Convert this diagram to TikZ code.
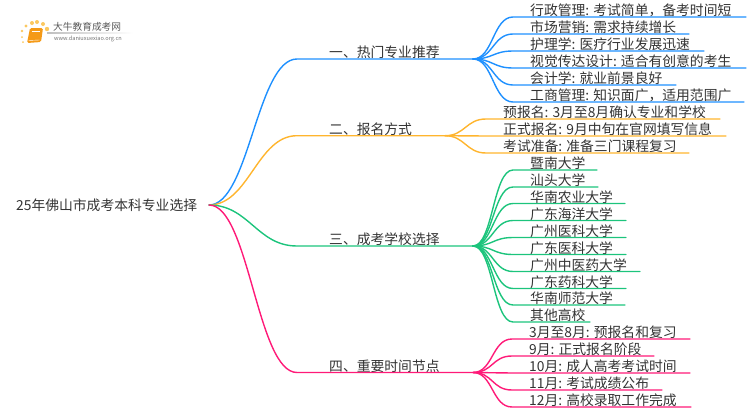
\documentclass[tikz,border=0pt]{standalone}
\usepackage{fontspec}
\setmainfont{Noto Sans CJK SC}
\definecolor{lineblue}{HTML}{1E90FF}
\definecolor{lineorange}{HTML}{FFB52E}
\definecolor{linegreen}{HTML}{1CC47C}
\definecolor{linepink}{HTML}{FF1A78}
\definecolor{textgray}{HTML}{333333}
\definecolor{logoorange}{HTML}{F59A16}
\definecolor{logosun}{HTML}{FBC860}
\tikzset{label/.style = {anchor=south west, inner sep=0pt, text height=11pt, text depth=1pt,
                         font=\fontsize{13.8}{14}\selectfont, text=textgray},
         rootlabel/.style = {anchor=west, inner sep=0pt, font=\fontsize{13.8}{14}\selectfont, text=textgray},
         logotitle/.style = {anchor=west, inner sep=0pt, font=\fontsize{9.7}{10}\selectfont, text=black!65},
         logourl/.style = {anchor=west, inner sep=0pt, font=\fontsize{5.6}{6}\selectfont, text=black!55},
         sundot/.style = {fill=logosun},
         limb/.style = {line width=1.4pt, line cap=round},
         swoop/.style = {to path={.. controls ([xshift=#1]\tikztostart) and ([xshift=-#1]\tikztotarget) .. (\tikztotarget)}}}

\begin{document}
\begin{tikzpicture}[x=1pt,y=-1pt]
    \useasboundingbox (0,0) rectangle (750,410);

    % logo
    \fill[sundot](22,31)circle(1.3);
    \fill[sundot](26,26)circle(1.6);
    \fill[sundot](32,23)circle(2);
    \fill[sundot](37,22)circle(2);
    \fill[sundot](43,24)circle(2);
    \fill[sundot](47,29)circle(2.2);
    \fill[sundot](22,37)circle(1);
    \fill[sundot](23,42)circle(1);
    \fill[logoorange,rounded corners=1.5pt](30,28)--(43,28)--(41,42)--(27,43)--cycle;
    \draw[white,line width=0.6pt](31.5,31)--(40,31);
    \draw[white,line width=0.4pt](28.5,40.5)--(39.5,40);
    \shade[left color=black!25,right color=white](47,32.7)rectangle(133,33.3);
    \node[logotitle](logoname)at(53,27){大牛教育成考网};
    \node[logourl](logoweb)at(54,38.5){www.daniuxuexiao.org.cn};

    % root and four hubs
    \node[rootlabel](root)at(16,205){25年佛山市成考本科专业选择};
    \coordinate(rootend)at(209,205);
    \coordinate(hubA)at(473,59);
    \coordinate(hubB)at(445,135.7);
    \coordinate(hubC)at(473,246);
    \coordinate(hubD)at(473,372.5);

    \node[label](secA)at(329,59){一、热门专业推荐};
    \node[label](secB)at(329,135.7){二、报名方式};
    \node[label](secC)at(329,246){三、成考学校选择};
    \node[label](secD)at(329,372.5){四、重要时间节点};

    \draw[limb,lineblue](rootend)to[swoop=40pt]([xshift=-32pt]secA.south west)--(hubA);
    \draw[limb,lineorange](rootend)to[swoop=40pt]([xshift=-32pt]secB.south west)--(hubB);
    \draw[limb,linegreen](rootend)to[swoop=40pt]([xshift=-32pt]secC.south west)--(hubC);
    \draw[limb,linepink](rootend)to[swoop=40pt]([xshift=-32pt]secD.south west)--(hubD);

    % first group
    \node[label](a1)at(530,17){行政管理: 考试简单，备考时间短};
    \node[label](a2)at(530,34){市场营销: 需求持续增长};
    \node[label](a3)at(530,51){护理学: 医疗行业发展迅速};
    \node[label](a4)at(530,68){视觉传达设计: 适合有创意的考生};
    \node[label](a5)at(530,85){会计学: 就业前景良好};
    \node[label](a6)at(530,102){工商管理: 知识面广，适用范围广};
    \coordinate(a1end)at(746,17);
    \coordinate(a2end)at(689,34);
    \coordinate(a3end)at(704,51);
    \coordinate(a4end)at(746,68);
    \coordinate(a5end)at(676,85);
    \coordinate(a6end)at(744,102);
    \draw[limb,lineblue](hubA)to[swoop=20pt]([xshift=-17pt]a1.south west)--(a1end);
    \draw[limb,lineblue](hubA)to[swoop=20pt]([xshift=-17pt]a2.south west)--(a2end);
    \draw[limb,lineblue](hubA)to[swoop=20pt]([xshift=-17pt]a3.south west)--(a3end);
    \draw[limb,lineblue](hubA)to[swoop=20pt]([xshift=-17pt]a4.south west)--(a4end);
    \draw[limb,lineblue](hubA)to[swoop=20pt]([xshift=-17pt]a5.south west)--(a5end);
    \draw[limb,lineblue](hubA)to[swoop=20pt]([xshift=-17pt]a6.south west)--(a6end);

    % second group
    \node[label](b1)at(503,119){预报名: 3月至8月确认专业和学校};
    \node[label](b2)at(503,136){正式报名: 9月中旬在官网填写信息};
    \node[label](b3)at(503,153){考试准备: 准备三门课程复习};
    \coordinate(b1end)at(720,119);
    \coordinate(b2end)at(726,136);
    \coordinate(b3end)at(689,153);
    \draw[limb,lineorange](hubB)to[swoop=20pt]([xshift=-17pt]b1.south west)--(b1end);
    \draw[limb,lineorange](hubB)to[swoop=20pt]([xshift=-17pt]b2.south west)--(b2end);
    \draw[limb,lineorange](hubB)to[swoop=20pt]([xshift=-17pt]b3.south west)--(b3end);

    % third group
    \node[label](c1)at(530,170){暨南大学};
    \node[label](c2)at(530,187){汕头大学};
    \node[label](c3)at(530,203.5){华南农业大学};
    \node[label](c4)at(530,220.5){广东海洋大学};
    \node[label](c5)at(530,237.5){广州医科大学};
    \node[label](c6)at(530,254.5){广东医科大学};
    \node[label](c7)at(530,271.5){广州中医药大学};
    \node[label](c8)at(530,288.5){广东药科大学};
    \node[label](c9)at(530,305){华南师范大学};
    \node[label](c10)at(530,322){其他高校};
    \coordinate(c1end)at(597,170);
    \coordinate(c2end)at(598,187);
    \coordinate(c3end)at(625,203.5);
    \coordinate(c4end)at(626,220.5);
    \coordinate(c5end)at(626,237.5);
    \coordinate(c6end)at(626,254.5);
    \coordinate(c7end)at(640,271.5);
    \coordinate(c8end)at(626,288.5);
    \coordinate(c9end)at(625,305);
    \coordinate(c10end)at(590,322);
    \draw[limb,linegreen](hubC)to[swoop=20pt]([xshift=-17pt]c1.south west)--(c1end);
    \draw[limb,linegreen](hubC)to[swoop=20pt]([xshift=-17pt]c2.south west)--(c2end);
    \draw[limb,linegreen](hubC)to[swoop=20pt]([xshift=-17pt]c3.south west)--(c3end);
    \draw[limb,linegreen](hubC)to[swoop=20pt]([xshift=-17pt]c4.south west)--(c4end);
    \draw[limb,linegreen](hubC)to[swoop=20pt]([xshift=-17pt]c5.south west)--(c5end);
    \draw[limb,linegreen](hubC)to[swoop=20pt]([xshift=-17pt]c6.south west)--(c6end);
    \draw[limb,linegreen](hubC)to[swoop=20pt]([xshift=-17pt]c7.south west)--(c7end);
    \draw[limb,linegreen](hubC)to[swoop=20pt]([xshift=-17pt]c8.south west)--(c8end);
    \draw[limb,linegreen](hubC)to[swoop=20pt]([xshift=-17pt]c9.south west)--(c9end);
    \draw[limb,linegreen](hubC)to[swoop=20pt]([xshift=-17pt]c10.south west)--(c10end);

    % fourth group
    \node[label](d1)at(529,339){3月至8月: 预报名和复习};
    \node[label](d2)at(529,356){9月: 正式报名阶段};
    \node[label](d3)at(529,373){10月: 成人高考考试时间};
    \node[label](d4)at(529,390){11月: 考试成绩公布};
    \node[label](d5)at(529,407){12月: 高校录取工作完成};
    \coordinate(d1end)at(690,339);
    \coordinate(d2end)at(654,356);
    \coordinate(d3end)at(690,373);
    \coordinate(d4end)at(662,390);
    \coordinate(d5end)at(691,407);
    \draw[limb,linepink](hubD)to[swoop=20pt]([xshift=-17pt]d1.south west)--(d1end);
    \draw[limb,linepink](hubD)to[swoop=20pt]([xshift=-17pt]d2.south west)--(d2end);
    \draw[limb,linepink](hubD)to[swoop=20pt]([xshift=-17pt]d3.south west)--(d3end);
    \draw[limb,linepink](hubD)to[swoop=20pt]([xshift=-17pt]d4.south west)--(d4end);
    \draw[limb,linepink](hubD)to[swoop=20pt]([xshift=-17pt]d5.south west)--(d5end);
\end{tikzpicture}
\end{document}
